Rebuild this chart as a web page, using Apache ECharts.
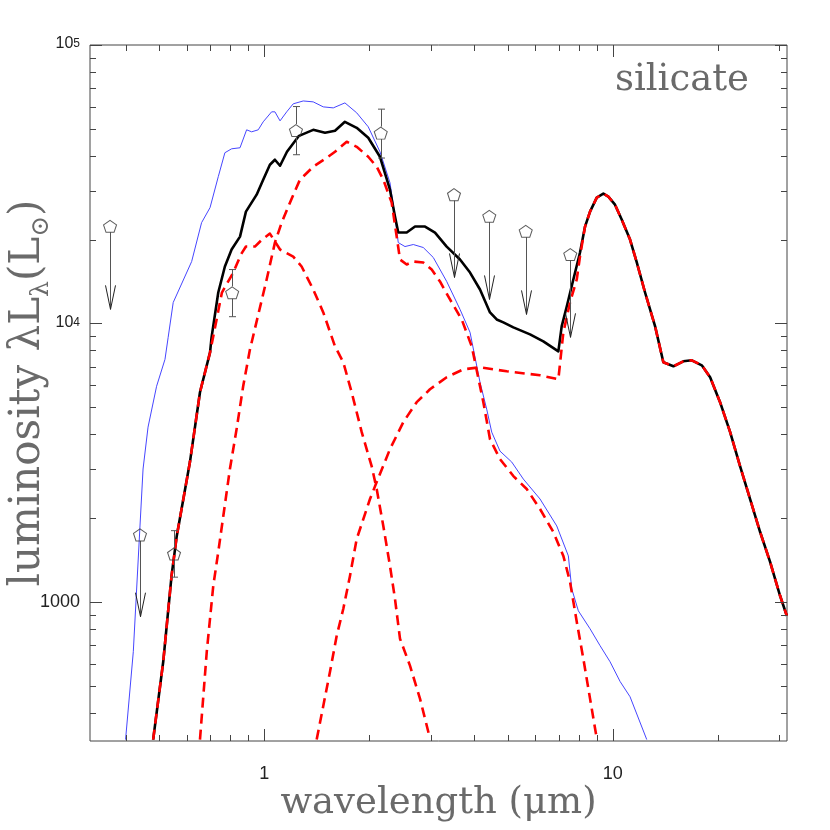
<!DOCTYPE html>
<html>
<head>
<meta charset="UTF-8">
<title>silicate</title>
<script src="https://cdn.jsdelivr.net/npm/echarts@6/dist/echarts.min.js"></script>
<style>body{margin:0;background:#fff}</style>
</head>
<body>
<div id="main" style="width:830px;height:830px"></div>
<script>
// axis ranges (log10 -0.5..1.5 and 2.5..5)
const xMin = 0.316228, xMax = 31.6228, yMin = 316.228, yMax = 100000;
const xMajorTicks = [1, 10];
const xMinorTicks = [0.4, 0.5, 0.6, 0.7, 0.8, 0.9, 2, 3, 4, 5, 6, 7, 8, 9, 20, 30];
const yMajorTicks = [1000, 10000, 100000];
const yMinorTicks = [400, 500, 600, 700, 800, 900, 2000, 3000, 4000, 5000, 6000, 7000, 8000, 9000,
  20000, 30000, 40000, 50000, 60000, 70000, 80000, 90000];
const xLabelValues = [1, 10];
const xLabelTexts = ['1', '10'];
const yLabelValues = [1000, 10000, 100000];
const yLabelTexts = ['1000', '10^4', '10^5'];

// [wavelength (um), luminosity]
const blueModel = [[0.400,320],[0.421,662],[0.440,1872],[0.449,2999],[0.464,4240],[0.491,5945],[0.519,7430],
  [0.530,8910],[0.548,11890],[0.619,16680],[0.661,23010],[0.699,26060],[0.738,33650],[0.771,41020],
  [0.806,42380],[0.852,42740],[0.890,49580],[0.920,48770],[0.961,49580],[0.993,52970],[1.050,57540],
  [1.073,57540],[1.110,53400],[1.160,57540],[1.211,61480],[1.294,62950],[1.382,62480],[1.477,59950],
  [1.578,59450],[1.704,61950],[1.842,57060],[1.988,50830],[2.148,41350],[2.295,32010],[2.372,24190],
  [2.424,19510],[2.534,18880],[2.677,19200],[2.860,18730],[3.055,17250],[3.338,14150],[3.645,11230],
  [3.895,9285],[4.160,6145],[4.348,4920],[4.495,4068],[4.748,3477],[5.131,3176],[5.539,2760],
  [6.185,2340],[6.907,1873],[7.458,1462],[7.627,1113],[7.967,928],[8.607,800],[9.194,696],[9.824,609],
  [10.50,517],[11.21,456],[12.52,320]];

const totalRise = [[0.480,320],[0.513,609],[0.542,1239],[0.561,1724],[0.612,3176],[0.654,5657],[0.699,7870],
  [0.706,8910],[0.738,12910],[0.771,16010],[0.806,18420],[0.852,20500],[0.886,25200],[0.951,29000],
  [0.993,32820],[1.038,37150],[1.073,38710],[1.110,36840],[1.162,41350],[1.258,47180],[1.382,49580],
  [1.494,48370],[1.596,49180],[1.704,52970],[1.842,50410],[1.988,46420],[2.148,39680],[2.295,30220],
  [2.372,24190],[2.424,21200],[2.563,21200],[2.708,22280],[2.893,22280],[3.090,21200],[3.338,18880],
  [3.645,16960],[3.895,15230],[4.160,13240],[4.444,10950],[4.645,10330],[4.853,10080],[5.186,9676],
  [5.789,9134],[6.321,8620],[6.981,7936],[7.136,9754],[7.379,11500],[7.707,14380],[8.055,17970]];

const silicateTail = [[8.327,22280],[8.607,25200],[8.997,28290],[9.398,29240],[9.714,28520],[10.15,26700],
  [10.61,23600],[11.21,20000],[11.72,16550],[12.38,12910],[13.23,9754],[13.97,7248],[14.93,7013],
  [15.94,7309],[16.86,7370],[18.01,7071],[19.03,6405],[20.32,5212],[21.72,4068],[23.19,3073],
  [24.78,2340],[26.48,1781],[28.28,1391],[30.21,1051],[31.58,891]];

const starComp = [[0.480,320],[0.513,609],[0.542,1239],[0.561,1724],[0.612,3176],[0.654,5657],[0.699,7870],
  [0.730,10330],[0.756,12910],[0.815,15230],[0.857,17670],[0.886,18880],[0.940,18880],[0.985,20000],
  [1.038,21020],[1.110,18420],[1.211,17380],[1.280,16010],[1.382,13240],[1.477,10950],[1.596,8271],
  [1.686,7248],[1.782,5652],[1.904,4068],[2.033,3073],[2.102,2541],[2.196,1873],[2.295,1346],
  [2.372,1025],[2.452,737],[2.619,590],[2.798,449],[2.989,323]];

const warmComp = [[0.654,320],[0.684,662],[0.714,1141],[0.738,1511],[0.763,2033],[0.797,2999],[0.833,4171],
  [0.870,5945],[0.910,8070],[1.016,14380],[1.073,19510],[1.122,23010],[1.185,27150],[1.266,32820],
  [1.382,36540],[1.510,39350],[1.596,41350],[1.724,44920],[1.842,43090],[1.988,39680],[2.102,36540],
  [2.196,32820],[2.321,27150],[2.399,20500],[2.452,16960],[2.563,16280],[2.677,16680],[2.860,16550],
  [3.023,15610],[3.193,14150],[3.412,12190],[3.687,10330],[3.939,8271],[4.253,5212],[4.444,3839],
  [4.748,3254],[5.186,2829],[5.665,2541],[6.185,2154],[6.753,1781],[7.215,1462],[7.541,1179],
  [7.883,848],[8.233,625],[8.607,449],[8.997,323]];

const dustRise = [[1.414,320],[1.544,561],[1.614,755],[1.686,944],[1.762,1239],[1.842,1682],[2.011,2340],
  [2.102,2692],[2.295,3535],[2.506,4418],[2.738,5212],[2.989,5799],[3.338,6405],[3.726,6841],
  [4.160,6955],[4.964,6730],[6.185,6511],[6.981,6300],[7.215,9285],[7.541,11890],[7.883,14380],
  [8.055,17420]];

// photometry
const detX = [0.551, 0.809, 1.233, 2.159];
const detY = [1486, 12880, 49290, 48250];
const detLo = [1226, 10570, 40350, 39260];
const detHi = [1801, 15610, 60100, 58830];
const limX = [0.361, 0.440, 3.503, 4.423, 5.627, 7.553];
const limY = [22330, 1739, 29000, 24250, 21420, 17670];
const limTip = [11230, 884, 14620, 12190, 10770, 8910];

const serif = "'DejaVu Serif', 'DejaVu Sans', serif";
const sans = "'Liberation Sans', Arial, sans-serif";
const tickColor = '#444';

const chart = echarts.init(document.getElementById('main'));

const xTickData = xMajorTicks.map(v => [v, yMin, 1]).concat(xMinorTicks.map(v => [v, yMin, 0]));
const yTickData = yMajorTicks.map(v => [xMin, v, 1]).concat(yMinorTicks.map(v => [xMin, v, 0]));

function px(v) { return Math.round(v) + 0.5; }

function tickSeries(data, onX) {
  return {
    type: 'custom', silent: true, z: 6, data: data, encode: {x: 0, y: 1},
    renderItem: function (params, api) {
      const len = api.value(2) ? 12 : 6;
      const style = {stroke: tickColor, lineWidth: 1};
      let a, b;
      if (onX) {
        a = api.coord([api.value(0), yMin]); b = api.coord([api.value(0), yMax]);
        const x = px(a[0]);
        return {type: 'group', children: [
          {type: 'line', shape: {x1: x, y1: a[1], x2: x, y2: a[1] - len}, style: style},
          {type: 'line', shape: {x1: x, y1: b[1], x2: x, y2: b[1] + len}, style: style}]};
      }
      a = api.coord([xMin, api.value(1)]); b = api.coord([xMax, api.value(1)]);
      const y = px(a[1]);
      return {type: 'group', children: [
        {type: 'line', shape: {x1: a[0], y1: y, x2: a[0] + len, y2: y}, style: style},
        {type: 'line', shape: {x1: b[0], y1: y, x2: b[0] - len, y2: y}, style: style}]};
    }
  };
}

const pentagon = 'path://M0,-1 L0.951,-0.309 L0.588,0.809 L-0.588,0.809 L-0.951,-0.309 Z';

function curve(data, color, width, dashed, z) {
  return {
    type: 'line', data: data, showSymbol: false, symbol: 'none', z: z, silent: true,
    lineStyle: {color: color, width: width, type: dashed ? [10, 6] : 'solid', join: 'round'}
  };
}

chart.setOption({
  animation: false,
  backgroundColor: '#fff',
  grid: {left: 90, top: 45, right: 43, bottom: 89, show: true, borderColor: '#444', borderWidth: 1,
    backgroundColor: 'transparent', containLabel: false, outerBoundsMode: 'none'},
  xAxis: {
    type: 'log', logBase: 10, min: xMin, max: xMax,
    axisLine: {show: false}, axisTick: {show: false}, splitLine: {show: false}, minorTick: {show: false},
    axisLabel: {
      margin: 24, fontFamily: sans, fontSize: 18, color: '#222',
      formatter: function (v) {
        const i = xLabelValues.findIndex(t => Math.abs(t - v) / t < 1e-6);
        return i < 0 ? '' : xLabelTexts[i];
      }
    },
    name: 'wavelength (\u03bcm)', nameLocation: 'middle', nameGap: 44, nameMoveOverlap: false,
    nameTextStyle: {fontFamily: serif, fontSize: 37, color: '#6a6a6a'}
  },
  yAxis: {
    type: 'log', logBase: 10, min: yMin, max: yMax,
    axisLine: {show: false}, axisTick: {show: false}, splitLine: {show: false}, minorTick: {show: false},
    axisLabel: {
      margin: 10, color: '#222',
      formatter: function (v) {
        const i = yLabelValues.findIndex(t => Math.abs(t - v) / t < 1e-6);
        if (i < 0) return '';
        const parts = yLabelTexts[i].split('^');
        return parts.length > 1 ? '{b|' + parts[0] + '}{s|' + parts[1] + '}' : '{n|' + parts[0] + '}';
      },
      rich: {
        n: {fontFamily: sans, fontSize: 18, color: '#222'},
        b: {fontFamily: sans, fontSize: 16, color: '#222', lineHeight: 14, verticalAlign: 'bottom'},
        s: {fontFamily: sans, fontSize: 12, color: '#222', lineHeight: 14, verticalAlign: 'top'}
      }
    },
    name: 'luminosity \u03bbL{s|\u03bb}(L{s|\u2299})', nameLocation: 'middle', nameGap: 36, nameMoveOverlap: false,
    nameTextStyle: {
      fontFamily: serif, fontSize: 42, color: '#6a6a6a', lineHeight: 52,
      rich: {s: {fontFamily: serif, fontSize: 25, color: '#6a6a6a', lineHeight: 22, verticalAlign: 'bottom'}}
    }
  },
  graphic: [{
    type: 'text', right: 81, top: 62, z: 10,
    style: {text: 'silicate', font: '37px ' + serif, fill: '#6a6a6a'}
  }],
  series: [
    tickSeries(xTickData, true),
    tickSeries(yTickData, false),
    curve(blueModel, '#4646ff', 1, false, 2),
    curve(totalRise.concat(silicateTail), '#000', 2.6, false, 3),
    curve(starComp, '#ff0000', 2.6, true, 4),
    curve(warmComp, '#ff0000', 2.6, true, 4),
    curve(dustRise.concat(silicateTail), '#ff0000', 2.6, true, 4),
    {
      type: 'custom', silent: true, z: 7, encode: {x: 0, y: 1},
      data: detX.map((x, i) => [x, detY[i], detLo[i], detHi[i]]),
      renderItem: function (params, api) {
        const p = api.coord([api.value(0), api.value(1)]);
        const lo = api.coord([api.value(0), api.value(2)]);
        const hi = api.coord([api.value(0), api.value(3)]);
        const x = px(p[0]);
        const st = {stroke: '#555', lineWidth: 1};
        return {type: 'group', children: [
          {type: 'line', shape: {x1: x, y1: hi[1], x2: x, y2: p[1] - 6.5}, style: st},
          {type: 'line', shape: {x1: x, y1: p[1] + 6, x2: x, y2: lo[1]}, style: st},
          {type: 'line', shape: {x1: x - 3.5, y1: hi[1], x2: x + 3.5, y2: hi[1]}, style: st},
          {type: 'line', shape: {x1: x - 3.5, y1: lo[1], x2: x + 3.5, y2: lo[1]}, style: st}]};
      }
    },
    {
      type: 'custom', silent: true, z: 7, encode: {x: 0, y: 1},
      data: limX.map((x, i) => [x, limY[i], limTip[i]]),
      renderItem: function (params, api) {
        const p = api.coord([api.value(0), api.value(1)]);
        const t = api.coord([api.value(0), api.value(2)]);
        const x = px(p[0]);
        return {type: 'group', children: [
          {type: 'line', shape: {x1: x, y1: p[1] + 6, x2: x, y2: t[1]}, style: {stroke: '#555', lineWidth: 1}},
          {type: 'polyline', shape: {points: [[x - 5, t[1] - 24], [x, t[1]], [x + 5, t[1] - 24]]},
            style: {stroke: '#222', lineWidth: 1, fill: null}}]};
      }
    },
    {
      type: 'scatter', silent: true, z: 8, symbol: pentagon, symbolSize: [13, 12],
      data: detX.map((x, i) => [x, detY[i]]).concat(limX.map((x, i) => [x, limY[i]])),
      itemStyle: {color: 'rgba(255,255,255,0)', borderColor: '#333', borderWidth: 1}
    }
  ]
});
</script>
</body>
</html>
